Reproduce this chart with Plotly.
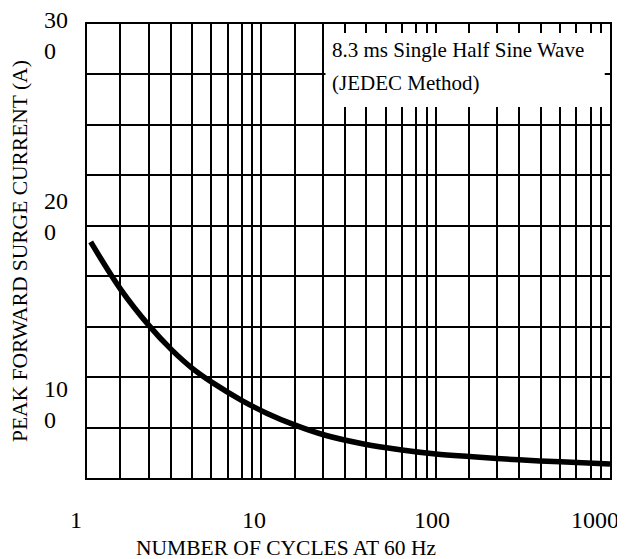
import numpy as np
import plotly.graph_objects as go

# ---- data ----
cycles = [1.05, 1.56, 2.27, 3.06, 4.0, 5.3, 7.7, 10.8, 15.5, 23, 38, 64,
          100, 156, 300, 520, 1000]
surge_current = [192, 168.5, 150.5, 138.5, 129.5, 122, 113.5, 107, 101.3, 96.3, 92, 88.9,
                 86.9, 85.6, 84, 83, 82]

x_tick_values = [1, 10, 100, 1000]
x_tick_labels = ["1", "10", "100", "1000"]
y_tick_values = [300, 200, 100]
y_tick_labels = ["30<br>0", "20<br>0", "10<br>0"]

grid_multipliers = [1.55, 2.26, 3.02, 4.0, 5.17, 6.4, 7.74, 8.88]
grid_decades = [1, 10, 100]

note_lines = ["8.3 ms Single Half Sine Wave", "(JEDEC Method)"]
x_title = "NUMBER OF CYCLES AT 60 Hz"
y_title = "PEAK FORWARD SURGE CURRENT (A)"

FONT = "Liberation Serif"

x_grid = [m * d for d in grid_decades for m in grid_multipliers] + [10, 100]

fig = go.Figure()
fig.add_trace(go.Scatter(
    x=cycles, y=surge_current, mode="lines",
    line=dict(color="black", width=5.5, shape="spline", smoothing=1.0),
    showlegend=False, hoverinfo="skip",
))

# page body has an 8px margin, so the figure is 8px smaller than the window
fig.update_layout(
    width=617, height=551,
    margin=dict(l=79, r=15, t=16, b=81),
    paper_bgcolor="white", plot_bgcolor="white",
    font=dict(family=FONT, color="black"),
    xaxis=dict(
        type="log", range=[0, 3],
        tickmode="array", tickvals=x_grid,
        showticklabels=False, ticks="",
        showgrid=True, gridcolor="black", gridwidth=1.6,
        showline=True, linecolor="black", linewidth=2, mirror=True,
        zeroline=False,
    ),
    yaxis=dict(
        range=[75, 300], tick0=75, dtick=25,
        showticklabels=False, ticks="",
        showgrid=True, gridcolor="black", gridwidth=1.8,
        showline=True, linecolor="black", linewidth=2, mirror=True,
        zeroline=False,
    ),
)

# white note box covering the grid in the upper right
fig.add_shape(type="rect", xref="paper", yref="paper",
              x0=0.456, x1=0.990, y0=0.817, y1=0.980,
              fillcolor="white", line=dict(width=0), layer="above")
fig.add_annotation(text=note_lines[0], xref="paper", yref="paper",
                   x=0.4646, y=0.9427, xanchor="left", yanchor="middle",
                   showarrow=False, font=dict(size=21, family=FONT, color="black"))
fig.add_annotation(text=note_lines[1], xref="paper", yref="paper",
                   x=0.4646, y=0.870, xanchor="left", yanchor="middle",
                   showarrow=False, font=dict(size=21, family=FONT, color="black"))

# x tick labels
x_shifts = [-11, -7, -4, -15]
for v, lab, sh in zip(x_tick_values, x_tick_labels, x_shifts):
    fig.add_annotation(text=lab, xref="x", yref="paper", x=np.log10(v), y=0,
                       xshift=sh, yshift=-42, xanchor="center", yanchor="middle",
                       showarrow=False, font=dict(size=24, family=FONT, color="black"))

# y tick labels (wrapped as in the reference)
y_shifts = [-11, 9, 23]
for v, lab, sh in zip(y_tick_values, y_tick_labels, y_shifts):
    fig.add_annotation(text=lab, xref="paper", yref="y", x=-0.086, y=v,
                       yshift=sh, xanchor="left", yanchor="middle", align="left",
                       showarrow=False, font=dict(size=24, family=FONT, color="black"))

# axis titles
fig.add_annotation(text=x_title, xref="paper", yref="paper", x=0.3805, y=-0.1535,
                   xanchor="center", yanchor="middle", showarrow=False,
                   font=dict(size=21.5, family=FONT, color="black"))
fig.add_annotation(text=y_title, xref="paper", yref="paper", x=-0.128, y=0.5,
                   xanchor="center", yanchor="middle", textangle=-90, showarrow=False,
                   font=dict(size=21.5, family=FONT, color="black"))

fig.write_html("out.html")
